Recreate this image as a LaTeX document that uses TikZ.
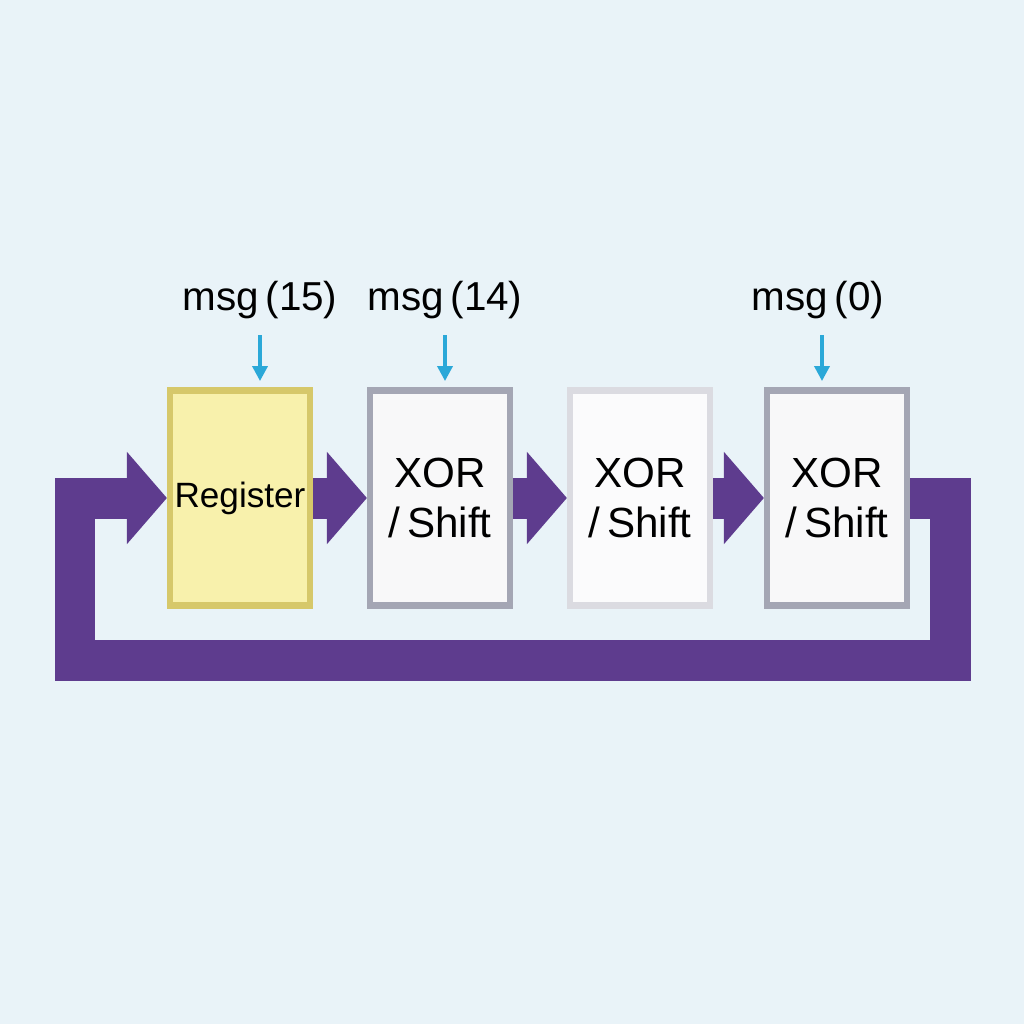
\documentclass[tikz,border=0pt]{standalone}
\usepackage{fontspec}
\setmainfont{Liberation Sans}
\usetikzlibrary{arrows.meta,positioning}
\definecolor{bgColor}{HTML}{E9F3F8}
\definecolor{loopColor}{HTML}{5E3C8E}
\definecolor{msgColor}{HTML}{2BA8D8}
\definecolor{regColor}{HTML}{F8F1AC}
\definecolor{regEdge}{HTML}{D6C86A}
\definecolor{boxEdge}{HTML}{A4A6B4}
\tikzset{
	blk/.style={draw=boxEdge, line width=3.5pt, fill=white!92!boxEdge, minimum width=2.8cm, minimum height=4.3cm, font=\fontsize{24}{29}\selectfont, align=center, inner sep=0},
	flow/.style={loopColor, line width=0.82cm, -{Triangle[width=1.8cm,length=0.8cm]}, line join=miter},
	msg/.style={msgColor, line width=2pt, -{Triangle[width=0.3cm,length=0.3cm]}}
}
\begin{document}
\begin{tikzpicture}[x=0.02cm,y=-0.02cm]
	\fill[bgColor] (0,0) rectangle (1024,1024);
	\node[blk, fill=regColor, draw=regEdge, font=\fontsize{20}{25}\selectfont] (reg) at (240,498) {Register};
	\node[blk] (x14) at (440,498) {XOR\\/\,Shift};
	\node[blk, draw=white!60!boxEdge, fill=white!96!boxEdge] (x1) at (640,498) {XOR\\/\,Shift};
	\node[blk] (x0) at (837,498) {XOR\\/\,Shift};
	% message inputs
	\node[font=\fontsize{23}{28}\selectfont] (m15) at (260,300) {msg\,(15)};
	\node[font=\fontsize{23}{28}\selectfont] (m14) at (445,300) {msg\,(14)};
	\node[font=\fontsize{23}{28}\selectfont] (m0) at (818,300) {msg\,(0)};
	\draw[msg] (m15.south) ++(0,10) -- ++(0,46);
	\draw[msg] (m14.south) ++(0,10) -- ++(0,46);
	\draw[msg] (m0.south) ++(4,10) -- ++(0,46);
	% shift chain
	\draw[flow] (reg) -- (x14);
	\draw[flow] (x14) -- (x1);
	\draw[flow] (x1) -- (x0);
	% feedback
	\coordinate (c1) at (950,498);
	\coordinate (c2) at (950,660);
	\coordinate (c3) at (75,660);
	\coordinate (c4) at (75,498);
	\draw[flow] (x0.east) -- (c1) -- (c2) -- (c3) -- (c4) -- (reg.west);
\end{tikzpicture}
\end{document}
